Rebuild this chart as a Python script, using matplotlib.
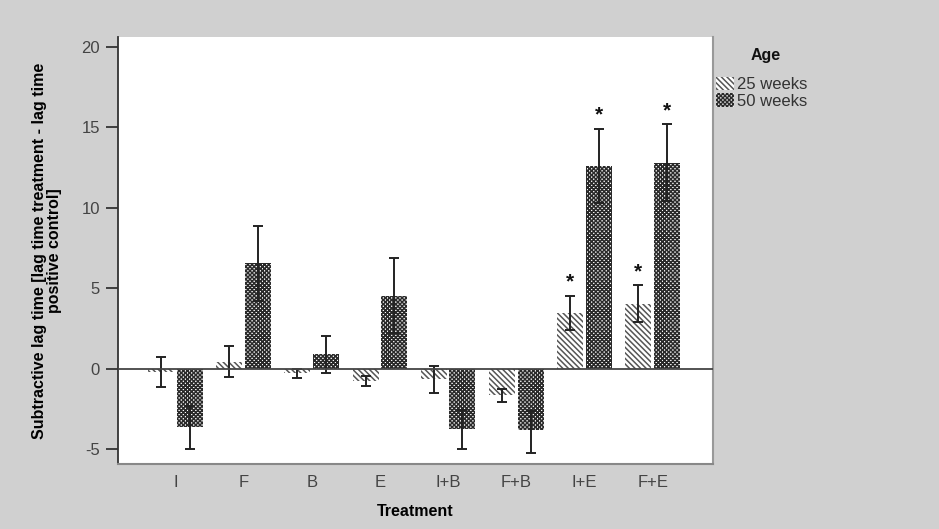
import numpy as np
import matplotlib
matplotlib.use("Agg")
import matplotlib.pyplot as plt

plt.rcParams['font.family'] = ['Liberation Sans', 'DejaVu Sans']
plt.rcParams['hatch.linewidth'] = 1.1
plt.rcParams['axes.unicode_minus'] = False

treatments = ['I', 'F', 'B', 'E', 'I+B', 'F+B', 'I+E', 'F+E']
mean_25 = [-0.2, 0.45, -0.25, -0.73, -0.6, -1.6, 3.45, 4.0]
low_25 = [-1.1, -0.5, -0.55, -1.08, -1.5, -2.05, 2.4, 2.9]
high_25 = [0.72, 1.4, 0.0, -0.45, 0.2, -1.25, 4.55, 5.2]
mean_50 = [-3.6, 6.6, 0.9, 4.5, -3.7, -3.8, 12.6, 12.8]
low_50 = [-4.97, 4.2, -0.25, 2.24, -4.95, -5.2, 10.3, 10.4]
high_50 = [-2.3, 8.9, 2.07, 6.9, -2.55, -2.6, 14.9, 15.2]
star_25 = [False, False, False, False, False, False, True, True]
star_50 = [False, False, False, False, False, False, True, True]

bg = '#d0d0d0'
fig = plt.figure(figsize=(9.39, 5.29), dpi=100, facecolor=bg)
ax = fig.add_axes([0.1257, 0.1229, 0.6333, 0.8071])
ax.set_facecolor('white')

x = np.arange(len(treatments))
w = 0.38
off = 0.21

def draw(pos, mean, low, high, hatch, col, stars, label):
    ax.bar(pos, mean, width=w, color='white', edgecolor=col, hatch=hatch,
           linewidth=0, label=label, zorder=2)
    m = np.array(mean)
    err = [m - np.array(low), np.array(high) - m]
    ax.errorbar(pos, m, yerr=err, fmt='none', ecolor='#222222', elinewidth=1.4,
                capsize=3.5, capthick=1.4, zorder=3)
    for xi, hi, s in zip(pos, high, stars):
        if s:
            ax.text(xi, hi + 0.25, '*', ha='center', va='bottom', fontsize=15,
                    fontweight='bold', color='#111111')

draw(x - off, mean_25, low_25, high_25, '\\' * 6, '#555555', star_25, '25 weeks')
draw(x + off, mean_50, low_50, high_50, 'x' * 8, '#2a2a2a', star_50, '50 weeks')

ax.axhline(0, color='#444444', linewidth=1.3, zorder=4)

ax.set_xlim(-0.84, 7.88)
ax.set_ylim(-5.9, 20.6)
ax.set_yticks([-5, 0, 5, 10, 15, 20])
ax.set_xticks(x)
ax.set_xticklabels(treatments)
ax.tick_params(axis='y', direction='out', length=9, width=1.3, color='#333333',
               labelsize=12, labelcolor='#444444', pad=4)
ax.tick_params(axis='x', length=0, labelsize=12, labelcolor='#444444', pad=8)

ax.spines['top'].set_visible(False)
ax.spines['right'].set_color('#999999')
ax.spines['right'].set_linewidth(1.5)
ax.spines['left'].set_color('#333333')
ax.spines['left'].set_linewidth(1.3)
ax.spines['bottom'].set_color('#888888')
ax.spines['bottom'].set_linewidth(1.5)

ax.set_xlabel('Treatment', fontsize=11.5, fontweight='bold', labelpad=10)
ax.set_ylabel('Subtractive lag time [lag time treatment - lag time\npositive control]',
              fontsize=11.5, fontweight='bold', labelpad=14, linespacing=1.0)

fig.text(0.815, 0.895, 'Age', ha='center', va='center', fontsize=11.5,
         fontweight='bold', color='#111111')
leg = ax.legend(loc='upper left', bbox_to_anchor=(1.0, 0.915), frameon=False,
                fontsize=12, handlelength=1.1, handleheight=0.9,
                handletextpad=0.15, labelspacing=0.05, borderaxespad=0.1,
                borderpad=0.1)
for t in leg.get_texts():
    t.set_color('#333333')

fig.savefig('out.png', dpi=100, facecolor=bg)
